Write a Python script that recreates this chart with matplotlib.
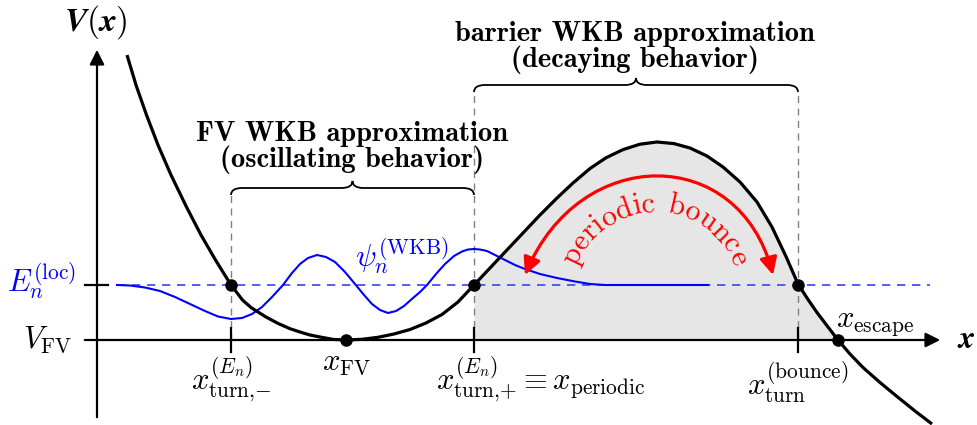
import matplotlib
matplotlib.use("Agg")
import matplotlib.pyplot as plt
import numpy as np
from matplotlib.path import Path
from matplotlib.patches import FancyArrowPatch, PathPatch

plt.rcParams["mathtext.fontset"] = "cm"
plt.rcParams["font.family"] = ["cmr10", "DejaVu Serif"]
plt.rcParams["axes.unicode_minus"] = False

# potential V(x) (x in px, y in px from the top)
pot_x = [127, 136, 146.5, 158, 171, 186.5, 201, 215.5, 231, 242.5, 251, 258, 266,
         278, 290, 300, 310, 320, 333, 346, 362, 378, 394, 410, 426, 442, 458,
         474, 490, 506, 523, 540, 557, 573, 590, 606, 623, 640, 657, 674, 690,
         707, 723, 740, 757, 772, 786, 798, 808, 817, 828, 838, 850, 863, 880,
         897, 915, 932]
pot_y = [55, 85, 115, 145, 175, 207, 235, 260, 285, 300, 307.5, 312, 317,
         323.4, 328.7, 332, 335, 337, 339.4, 340, 339.3, 337.3, 334, 329.5, 323,
         314.5, 302, 285, 268, 251, 233, 215, 198, 183, 168.5, 157.8, 149.6,
         144.2, 142, 143.6, 148, 156, 167, 182, 202, 227, 256.5, 284, 299.5,
         312.5, 327, 340, 354, 367.5, 382.5, 396.5, 411, 424]
pot_v = [340 - y for y in pot_y]

# WKB wave function psi_n
psi_x = [117, 130, 145, 160, 175, 190, 205, 218, 231, 242, 252, 262, 272, 283,
         292, 300, 308, 317, 326, 335, 345, 355, 364, 372, 380, 388, 396, 404,
         413, 420, 427, 436, 445, 454, 462, 468, 474, 480, 487, 495, 505, 515,
         525, 540, 557, 575, 590, 605, 620, 708]
psi_y = [285, 285.5, 287.5, 291, 297, 304, 311, 316.5, 319, 318, 314, 307, 297,
         285, 273, 264, 258, 255, 257, 262, 272, 284, 295, 304, 310, 313, 311,
         306, 298, 292, 285, 274, 264, 256, 251.5, 249.5, 249, 249.5, 251, 255,
         260, 265, 269, 274, 278, 281.5, 284, 285, 285, 285]
psi_v = [340 - y for y in psi_y]

E_loc = 55
x_turn_minus = 231
x_fv = 346
x_turn_plus = 474
x_turn_bounce = 798
x_escape = 838

dot_x = [x_turn_minus, x_turn_plus, x_turn_bounce, x_fv, x_escape]
dot_v = [E_loc, E_loc, E_loc, 0, 0]
tick_x = [x_turn_minus, x_turn_plus, x_turn_bounce]


def brace(ax, x0, x1, v, h=7, r=11):
    xm = (x0 + x1) / 2
    verts = [(x0, v - h), (x0, v), (x0 + r, v), (xm - r, v), (xm, v), (xm, v + h),
             (xm, v), (xm + r, v), (x1 - r, v), (x1, v), (x1, v - h)]
    codes = [Path.MOVETO, Path.CURVE3, Path.CURVE3, Path.LINETO, Path.CURVE3,
             Path.CURVE3, Path.CURVE3, Path.CURVE3, Path.LINETO, Path.CURVE3,
             Path.CURVE3]
    ax.add_patch(PathPatch(Path(verts, codes), fill=False, lw=1.3, color="k"))


def text_width(ax, s, size):
    renderer = ax.figure.canvas.get_renderer()
    t = ax.text(0, 0, s, fontsize=size)
    w = t.get_window_extent(renderer).width
    t.remove()
    return w


def text_on_arc(ax, s, cx, cy, r, size, color):
    # place letters one by one along a circle (baseline on the circle)
    centers = []
    for i, ch in enumerate(s):
        if ch == " ":
            centers.append(None)
            continue
        right = text_width(ax, s[:i + 1], size)
        centers.append(right - text_width(ax, ch, size) / 2)
    total = text_width(ax, s, size)
    theta0 = np.pi / 2 + total / r / 2
    for ch, c in zip(s, centers):
        if c is None:
            continue
        th = theta0 - c / r
        ax.text(cx + r * np.cos(th), cy + r * np.sin(th), ch, fontsize=size,
                color=color, rotation=np.degrees(th) - 90,
                rotation_mode="anchor", ha="center", va="baseline")


fig = plt.figure(figsize=(9.78, 4.25), dpi=100)
ax = fig.add_axes([0, 0, 1, 1])
ax.set_xlim(0, 978)
ax.set_ylim(340 - 425, 340)
ax.axis("off")

px = np.array(pot_x)
pv = np.array(pot_v)
m = (px >= x_turn_plus) & (px <= x_escape)
ax.fill_between(px[m], pv[m], 0, color="#e6e6e6", lw=0, zorder=0)

# axes
ax.annotate("", xy=(943, 0), xytext=(82, 0),
            arrowprops=dict(arrowstyle="-|>", lw=1.6, color="k", mutation_scale=22))
ax.annotate("", xy=(97, 293), xytext=(97, -80),
            arrowprops=dict(arrowstyle="-|>", lw=1.6, color="k", mutation_scale=22))
vx = ax.text(96, 318, r"$\mathbfit{V}\mathbf{(}\mathbfit{x}\mathbf{)}$", fontsize=24,
             ha="center", va="center")
xl = ax.text(966, 0, r"$\mathbfit{x}$", fontsize=23, ha="center", va="center")
try:
    fig.canvas.draw()
except Exception:
    for t, s in [(vx, "V(x)"), (xl, "x")]:
        t.set_text(s)
        t.set_fontfamily("Liberation Serif")
        t.set_fontweight("bold")
        t.set_fontstyle("italic")
        t.set_fontsize(24)

# ticks
for xt in tick_x:
    ax.plot([xt, xt], [-12, 12], color="k", lw=1.6, zorder=3)
ax.plot([85, 108], [E_loc, E_loc], color="k", lw=1.6, zorder=3)

# energy level and wave function
ax.plot([117, 930], [E_loc, E_loc], color="#4040ff", lw=1.2, dashes=(5, 4), zorder=2)
ax.plot(psi_x, psi_v, color="#0000ff", lw=1.5, zorder=3)

# potential
ax.plot(pot_x, pot_v, color="k", lw=2.3, zorder=4, solid_capstyle="butt")
ax.plot(dot_x, dot_v, "o", color="k", ms=8, zorder=5)

# braces and guides
brace(ax, x_turn_minus, x_turn_plus, 152, h=7)
brace(ax, x_turn_plus, x_turn_bounce, 255, h=7)
for xg, top in [(x_turn_minus, 145), (x_turn_plus, 248), (x_turn_bounce, 248)]:
    ax.plot([xg, xg], [0, top], color="#808080", lw=1.0, dashes=(5, 4), zorder=1)

bold = dict(family="cmb10", fontsize=20.5, ha="center", va="baseline")
ax.text(352, 199, "FV WKB approximation", **bold)
ax.text(352, 173, "(oscillating behavior)", **bold)
ax.text(635, 299, "barrier WKB approximation", **bold)
ax.text(635, 273, "(decaying behavior)", **bold)

# labels
ax.text(72, -8, r"$V_{\mathrm{FV}}$", fontsize=22, ha="right", va="baseline")
ax.text(76, 48, r"$E_n^{\mathrm{(loc)}}$", fontsize=22, ha="right", va="baseline",
        color="#0000ff")
ax.text(355, 73, r"$\psi_n^{\mathrm{(WKB)}}$", fontsize=22, ha="left", va="baseline",
        color="#0000ff")
ax.text(x_turn_minus, -15, r"$x_{\mathrm{turn}{,}{-}}^{(E_n)}$", fontsize=22,
        ha="center", va="top")
ax.text(x_fv, -10, r"$x_{\mathrm{FV}}$", fontsize=22, ha="center", va="top")
ax.text(436, -15, r"$x_{\mathrm{turn}{,}{+}}^{(E_n)} \equiv x_{\mathrm{periodic}}$",
        fontsize=22, ha="left", va="top")
ax.text(x_turn_bounce, -20, r"$x_{\mathrm{turn}}^{\mathrm{(bounce)}}$", fontsize=22,
        ha="center", va="top")
ax.text(836, 13, r"$x_{\mathrm{escape}}$", fontsize=22, ha="left", va="baseline")

# periodic bounce arrow
arc = Path([(525, 65), (580, 196), (739, 196), (773, 65)],
           [Path.MOVETO, Path.CURVE4, Path.CURVE4, Path.CURVE4])
ax.add_patch(FancyArrowPatch(path=arc, arrowstyle="<|-|>", color="red", lw=2.3,
                             mutation_scale=26, zorder=6))
fig.canvas.draw()
text_on_arc(ax, "periodic bounce", 655, 44, 84, 21.5, "red")

fig.savefig("out.png", dpi=100)
